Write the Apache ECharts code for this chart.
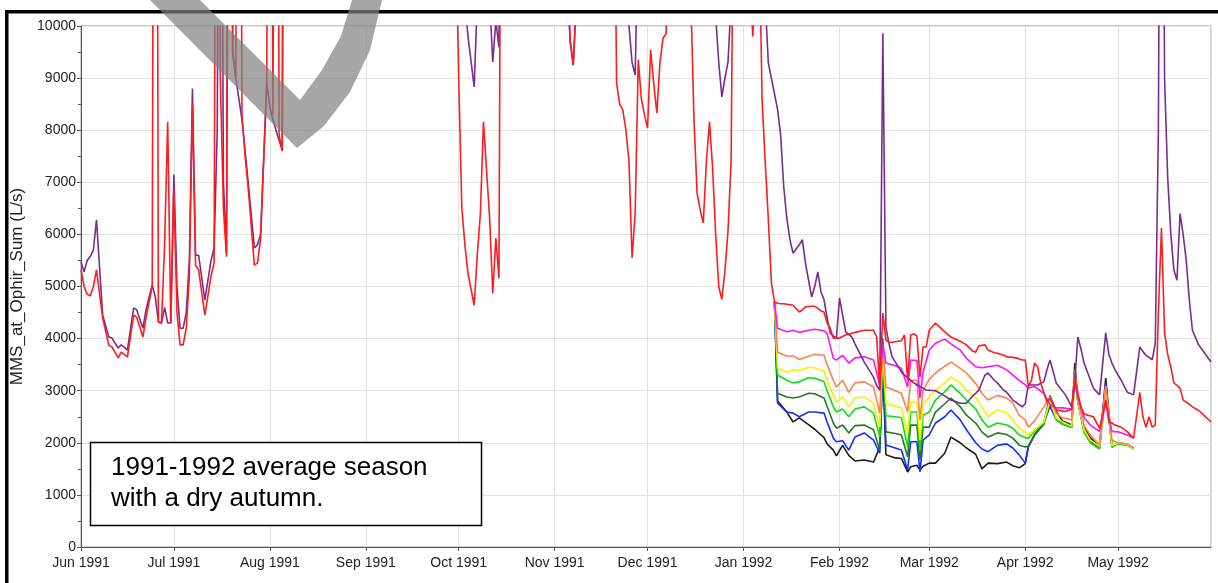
<!DOCTYPE html>
<html>
<head>
<meta charset="utf-8">
<title>MMS_at_Ophir_Sum 1991-1992</title>
<script src="https://cdn.jsdelivr.net/npm/echarts@6/dist/echarts.min.js"></script>
<style>
  html, body { margin: 0; padding: 0; background: #fff; }
  #chart { width: 1218px; height: 583px; }
</style>
</head>
<body>
<div id="chart"></div>
<script>
// full season, shared by the two long traces (values above 10000 run off the top)
const seasonDates = [
  '1991-06-01','1991-06-02','1991-06-03','1991-06-04','1991-06-05','1991-06-06','1991-06-08','1991-06-10','1991-06-11','1991-06-13','1991-06-14','1991-06-16','1991-06-18','1991-06-19','1991-06-21','1991-06-22','1991-06-24','1991-06-25','1991-06-26','1991-06-27','1991-06-28','1991-06-29','1991-06-30',
  '1991-07-01','1991-07-02','1991-07-03','1991-07-04','1991-07-05','1991-07-06','1991-07-07','1991-07-08','1991-07-09','1991-07-11','1991-07-13','1991-07-14','1991-07-15','1991-07-16','1991-07-17','1991-07-18','1991-07-19','1991-07-20','1991-07-21','1991-07-22','1991-07-23','1991-07-24','1991-07-25','1991-07-27','1991-07-28','1991-07-29','1991-07-31',
  '1991-08-01','1991-08-02','1991-08-03','1991-08-04','1991-08-05','1991-08-06',
  '1991-09-29','1991-09-30',
  '1991-10-01','1991-10-02','1991-10-03','1991-10-04','1991-10-06','1991-10-07','1991-10-08','1991-10-09','1991-10-11','1991-10-12','1991-10-13','1991-10-14','1991-10-15',
  '1991-11-05','1991-11-06','1991-11-07','1991-11-08','1991-11-09','1991-11-20','1991-11-21','1991-11-22','1991-11-23','1991-11-24','1991-11-25','1991-11-26','1991-11-27','1991-11-28','1991-11-29','1991-11-30',
  '1991-12-01','1991-12-02','1991-12-03','1991-12-04','1991-12-05','1991-12-06','1991-12-07','1991-12-08','1991-12-14','1991-12-15','1991-12-16','1991-12-17','1991-12-18','1991-12-19','1991-12-20','1991-12-21','1991-12-22','1991-12-23','1991-12-24','1991-12-25','1991-12-26','1991-12-27','1991-12-28','1991-12-29',
  '1992-01-03','1992-01-04','1992-01-05','1992-01-06','1992-01-07','1992-01-08','1992-01-09','1992-01-10','1992-01-11','1992-01-12','1992-01-13','1992-01-14','1992-01-15','1992-01-16','1992-01-17','1992-01-19','1992-01-20','1992-01-21','1992-01-23','1992-01-24','1992-01-25','1992-01-26','1992-01-27','1992-01-28','1992-01-29','1992-01-30','1992-01-31',
  '1992-02-01','1992-02-03','1992-02-05','1992-02-06','1992-02-09','1992-02-12','1992-02-13','1992-02-14','1992-02-15','1992-02-16','1992-02-17','1992-02-18','1992-02-21','1992-02-22','1992-02-23','1992-02-24','1992-02-25','1992-02-26','1992-02-27','1992-02-28','1992-02-29',
  '1992-03-01','1992-03-03','1992-03-06','1992-03-08','1992-03-11','1992-03-13','1992-03-15','1992-03-16','1992-03-17','1992-03-19','1992-03-20','1992-03-22','1992-03-23','1992-03-25','1992-03-26','1992-03-28','1992-03-29','1992-03-31',
  '1992-04-01','1992-04-02','1992-04-03','1992-04-04','1992-04-05','1992-04-06','1992-04-07','1992-04-08','1992-04-09','1992-04-11','1992-04-14','1992-04-16','1992-04-17','1992-04-18','1992-04-19','1992-04-20','1992-04-23','1992-04-25','1992-04-27','1992-04-28','1992-04-29','1992-04-30',
  '1992-05-02','1992-05-04','1992-05-06','1992-05-08','1992-05-09','1992-05-10','1992-05-11','1992-05-12','1992-05-13','1992-05-14','1992-05-15','1992-05-16','1992-05-17','1992-05-18','1992-05-19','1992-05-20','1992-05-21','1992-05-22','1992-05-23','1992-05-24','1992-05-25','1992-05-27','1992-05-28','1992-05-31'
];

const purpleFlow = [
  5470,5280,5500,5580,5700,6280,4450,4030,4010,3820,3880,3780,4590,4550,4200,4550,5030,4800,4320,4300,4600,4300,4300,
  7150,5000,4200,4200,4500,5500,8800,5600,5600,4740,5500,5740,8000,20000,7000,5640,20000,9500,9000,8600,8200,7600,7000,5740,5800,6000,8900,
  8450,8200,8000,7800,7620,25000,
  20000,15000,
  15000,12000,10500,9800,8830,10500,12000,12000,10500,9310,10100,9590,20000,
  11000,9720,9250,10500,15000,15000,12000,11000,10600,10300,10000,9300,9060,12000,12000,12000,
  12000,12000,12000,12000,12000,12000,12000,15000,15000,12000,12000,12000,12000,12000,12000,12000,11000,10200,9300,8640,9000,9310,10500,15000,
  15000,15000,15000,15000,12000,10500,9300,9000,8700,8400,7900,6900,6300,5900,5640,5800,5900,5450,4800,5000,5280,4900,4750,4400,4100,4050,4010,
  4780,4130,4030,3900,3550,3260,3100,3010,9860,4220,3900,3650,3360,3300,3250,3200,3150,3110,3080,3050,3010,
  3010,3000,2900,2820,2760,2760,2900,2950,3010,3300,3340,3200,3150,3010,2970,2820,2780,2690,
  2750,3110,3110,3110,3110,3140,3170,3400,3590,3150,2920,2690,3200,4030,3800,3530,3050,2920,4110,3700,3530,3400,
  3200,2970,2920,3840,3750,3680,3640,3590,3910,8000,20000,9000,7100,6030,5320,5120,6400,6000,5500,4740,4160,3880,3800,3550
];

const redFlow = [
  5320,5000,4850,4820,5000,5320,4400,3870,3840,3630,3740,3650,4450,4410,4030,4400,5000,30000,4320,4300,5800,8160,4300,
  6900,4500,3880,3880,4200,5200,8500,5400,5320,4450,5200,5450,25000,9000,6500,5570,25000,9500,9000,25000,8300,7500,6900,5410,5450,5900,8900,
  25000,8300,25000,7900,7600,30000,
  20000,12000,
  9000,6520,5800,5250,4640,5600,6400,8160,6300,4870,5930,5160,20000,
  11000,9720,9250,10500,15000,15000,8900,8500,8390,8000,7400,5550,6400,9350,8600,8300,
  8040,9540,8900,8330,9300,9770,9850,15000,15000,10500,8200,6790,6470,6220,7400,8160,7290,6000,5000,4750,5300,6080,7430,15000,
  11000,9800,11000,12000,8580,7400,6300,5070,4700,4680,4670,4670,4660,4650,4640,4510,4550,4610,4620,4620,4580,4530,4510,4300,4200,4010,4010,
  4010,4070,4100,4120,4160,4160,4030,3050,4490,3970,3930,3930,3960,4070,3200,4070,4090,4050,3260,3840,3840,
  4160,4300,4130,4030,3950,3880,3760,3740,3860,3880,3780,3730,3720,3680,3650,3640,3630,3590,
  3590,3080,3200,3530,3460,3150,2970,2780,2850,2630,2600,2650,3260,2950,2690,2550,2500,2280,2820,2400,2380,2340,
  2300,2210,2090,2970,2500,2300,2500,2300,2340,4500,6120,4110,3700,3460,3150,3100,3050,2820,2780,2740,2690,2620,2570,2400
];

// forecast ensemble, Jan - early May 1992
const ensembleDates = [
  '1992-01-11','1992-01-12','1992-01-15','1992-01-17','1992-01-19','1992-01-22','1992-01-24','1992-01-27','1992-01-28','1992-01-30','1992-01-31',
  '1992-02-02','1992-02-04','1992-02-06','1992-02-09','1992-02-12','1992-02-14','1992-02-15','1992-02-16','1992-02-19','1992-02-21','1992-02-23','1992-02-24','1992-02-26','1992-02-27','1992-02-28',
  '1992-03-01','1992-03-03','1992-03-06','1992-03-08','1992-03-11','1992-03-13','1992-03-16','1992-03-18','1992-03-20','1992-03-23','1992-03-26','1992-03-28','1992-03-30',
  '1992-04-01','1992-04-02','1992-04-04','1992-04-07','1992-04-09','1992-04-11','1992-04-13','1992-04-16','1992-04-17','1992-04-18','1992-04-20','1992-04-22','1992-04-25','1992-04-27','1992-04-29',
  '1992-05-01','1992-05-04','1992-05-06'
];

const magentaFlow = [
  4700,4200,4130,4160,4120,4160,4180,4150,4100,3620,3590,
  3680,3530,3630,3650,3590,3100,3910,3530,3480,3430,3070,3590,3580,2860,3360,
  3780,3910,3990,3900,3780,3620,3460,3440,3460,3490,3400,3300,3200,
  3110,3050,3080,2950,2730,2670,2670,2650,3150,2880,2480,2340,2220,2760,2220,
  2210,2150,2090
];
const coralFlow = [
  4700,3740,3660,3670,3600,3660,3700,3680,3500,3200,3070,
  3200,2970,3150,3170,3070,2570,3900,3070,3000,2950,2590,3200,3200,2440,3010,
  3220,3340,3470,3550,3430,3340,3140,2950,2820,2910,2860,2760,2530,
  2440,2300,2420,2690,2880,2570,2480,2440,3400,2820,2330,2150,1960,3100,2050,
  2000,1980,1900
];
const yellowFlow = [
  4700,3430,3360,3400,3380,3450,3440,3380,3200,2920,2780,
  2880,2690,2860,2880,2760,2300,3800,2760,2700,2670,2190,2780,2780,2050,2730,
  2880,3010,3150,3260,3150,3010,2860,2690,2500,2630,2570,2440,2280,
  2200,2150,2250,2400,2820,2480,2400,2320,3300,2800,2250,2050,1930,3050,1950,
  2000,1970,1880
];
const limeFlow = [
  4700,3300,3200,3150,3170,3250,3240,3170,3000,2690,2590,
  2650,2500,2650,2690,2570,2110,3700,2520,2500,2480,1920,2590,2590,1860,2530,
  2590,2820,2980,3110,2950,2820,2650,2440,2300,2380,2340,2280,2150,
  2100,2090,2220,2380,2800,2450,2360,2300,3250,2780,2200,2000,1880,3000,1930,
  1980,1950,1880
];
const darkGreenFlow = [
  4700,2950,2880,2860,2880,2950,2940,2860,2700,2380,2280,
  2340,2190,2330,2340,2250,1860,4000,2210,2180,2150,1730,2340,2340,1670,2300,
  2300,2590,2750,2860,2690,2530,2380,2210,2110,2190,2160,2090,1960,
  1920,1940,2150,2350,2800,2450,2360,2300,3300,2790,2220,2020,1900,3050,1940,
  1990,1960,1890
];
const blueFlow = [
  4700,2760,2590,2570,2500,2590,2590,2570,2400,2090,2020,
  2040,1860,2110,2190,2050,1800,3500,1960,1900,1860,1480,2020,2020,1440,2050,
  2150,2380,2500,2630,2440,2250,2000,1880,1830,1950,1980,1900,1770,
  1610,1920,2150,2380,2700,2450,2360,2300,3400,2800,2230,2030,1920,3150,1940,
  2000,1960,1890
];
const blackFlow = [
  4700,2800,2590,2400,2480,2350,2260,2100,1980,1860,1750,
  1950,1760,1650,1670,1630,1920,3400,1770,1710,1700,1440,1540,1570,1480,1550,
  1610,1610,1800,2110,2000,1900,1780,1500,1610,1600,1630,1560,1520,
  1600,1920,2150,2380,2900,2600,2420,2340,3530,2800,2300,2100,1930,3240,1920,
  2000,1970,1900
];

const yTicks = [0, 1000, 2000, 3000, 4000, 5000, 6000, 7000, 8000, 9000, 10000];
const monthNames = ['Jan','Feb','Mar','Apr','May','Jun','Jul','Aug','Sep','Oct','Nov','Dec'];

const FONT = '"Liberation Sans", Arial, sans-serif';

const zip = (dates, vals) => dates.map((d, i) => [d, vals[i]]);

const line = (name, color, dates, vals) => ({
  name: name,
  type: 'line',
  data: zip(dates, vals),
  showSymbol: false,
  clip: true,
  lineStyle: { color: color, width: 1.6 },
  itemStyle: { color: color },
  emphasis: { disabled: true }
});

const chart = echarts.init(document.getElementById('chart'));

const option = {
  animation: false,
  backgroundColor: '#fff',
  grid: {
    left: 81, right: 7, top: 26, bottom: 36,
    show: true, borderColor: '#9a9a9a', borderWidth: 1
  },
  xAxis: {
    type: 'time',
    min: '1991-06-01',
    max: '1992-05-31',
    splitNumber: 12,
    minInterval: 28 * 86400000,
    maxInterval: 31 * 86400000,
    axisLine: { lineStyle: { color: '#555', width: 1 } },
    axisTick: { show: true, length: 4, lineStyle: { color: '#555' } },
    splitLine: { show: true, lineStyle: { color: '#e2e2e2', width: 1 } },
    axisLabel: {
      fontFamily: FONT, fontSize: 14, color: '#222', margin: 9,
      showMaxLabel: false,
      formatter: v => {
        const d = new Date(v);
        return monthNames[d.getMonth()] + ' ' + d.getFullYear();
      }
    }
  },
  yAxis: {
    type: 'value',
    min: yTicks[0],
    max: yTicks[yTicks.length - 1],
    interval: yTicks[1] - yTicks[0],
    name: 'MMS_at_Ophir_Sum (L/s)',
    nameLocation: 'middle',
    nameGap: 54,
    nameTextStyle: { fontFamily: FONT, fontSize: 17, color: '#222' },
    axisLine: { show: true, lineStyle: { color: '#555', width: 1 } },
    axisTick: { show: true, length: 4, lineStyle: { color: '#555' } },
    minorTick: { show: true, splitNumber: 2, length: 3, lineStyle: { color: '#555' } },
    splitLine: { show: true, lineStyle: { color: '#e2e2e2', width: 1 } },
    axisLabel: { fontFamily: FONT, fontSize: 14, color: '#222', margin: 5, formatter: v => String(v) }
  },
  series: [
    line('Black', '#1c1c1c', ensembleDates, blackFlow),
    line('Blue', '#1030ff', ensembleDates, blueFlow),
    line('Dark green', '#237a23', ensembleDates, darkGreenFlow),
    line('Green', '#10dd10', ensembleDates, limeFlow),
    line('Yellow', '#f4f400', ensembleDates, yellowFlow),
    line('Coral', '#ff8050', ensembleDates, coralFlow),
    line('Magenta', '#ff10ff', ensembleDates, magentaFlow),
    line('Purple', '#7a2c8e', seasonDates, purpleFlow),
    line('Red', '#ff1c1c', seasonDates, redFlow)
  ],
  graphic: [
    // black frame on left and top
    { type: 'rect', z: 50, shape: { x: 5, y: 10, width: 1213, height: 3.5 }, style: { fill: '#000' } },
    { type: 'rect', z: 50, shape: { x: 5, y: 10, width: 3.5, height: 573 }, style: { fill: '#000' } },
    // grey check mark over the top-left
    {
      type: 'polygon', z: 60,
      shape: { points: [[150, 0], [297, 148], [324, 126], [350, 92], [370, 50], [382, 0], [352, 0], [341, 36], [322, 70], [300, 100], [200, 0]] },
      style: { fill: 'rgba(128,128,128,0.7)' }
    },
    // annotation box
    {
      type: 'rect', z: 70,
      shape: { x: 90.5, y: 442.5, width: 391, height: 83 },
      style: { fill: '#fff', stroke: '#000', lineWidth: 1.5 }
    },
    {
      type: 'text', z: 71, x: 111, y: 468,
      style: { text: '1991-1992 average season', font: '26px ' + FONT, fill: '#000', verticalAlign: 'middle' }
    },
    {
      type: 'text', z: 71, x: 111, y: 499,
      style: { text: 'with a dry autumn.', font: '26px ' + FONT, fill: '#000', verticalAlign: 'middle' }
    }
  ]
};

chart.setOption(option);
</script>
</body>
</html>
